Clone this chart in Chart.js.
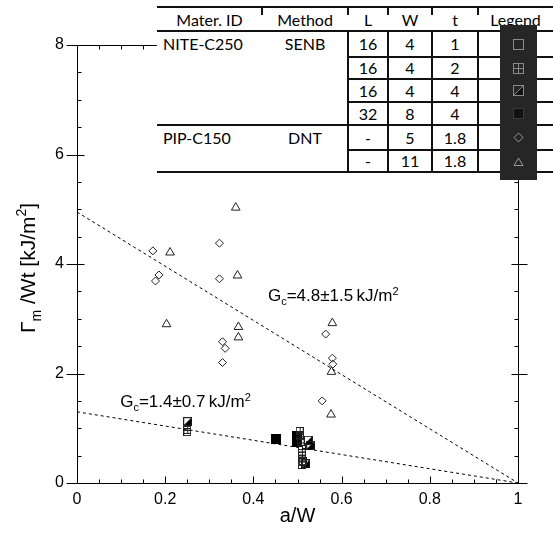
<!DOCTYPE html>
<html lang="en">
<head>
<meta charset="UTF-8">
<title>Gamma_m/Wt vs a/W</title>
<style>
    body { margin: 0; background: #fff; }
    .wrap { position: relative; width: 553px; height: 536px; }
    #chart { position: absolute; left: 0; top: 0; }
    .tbl {
        position: absolute; left: 157px; top: 7px; width: 396px; height: 166px;
        background: #fff;
        font-family: Lato, 'Noto Sans', sans-serif; font-size: 16px; color: #000;
    }
    .tbl .hl { position: absolute; height: 2px; background: #111; }
    .tbl .vl { position: absolute; width: 2px; background: #111; }
    .tbl .tx { position: absolute; transform: translate(-50%, -50%); white-space: nowrap; line-height: 1; }
    .tbl .tx.lft { transform: translate(0, -50%); }
    .legbox {
        position: absolute; left: 500px; top: 25px; width: 37px; height: 155px;
        background: #262626;
    }
    .legbox canvas { position: absolute; }
</style>
</head>
<body>
<div class="wrap">
    <canvas id="chart" width="553" height="536"></canvas>
    <div class="tbl" id="tbl"></div>
    <div class="legbox" id="legbox"></div>
</div>

<script src="https://cdn.jsdelivr.net/npm/chart.js"></script>
<script>
// ---- data ----
// NITE-C250, SENB (squares)
const sqOpenX = [0.250, 0.512];
const sqOpenY = [0.93, 0.40];
const sqGridX = [0.250, 0.505, 0.505, 0.507, 0.510, 0.510, 0.510, 0.510];
const sqGridY = [0.97, 0.95, 0.85, 0.74, 0.62, 0.52, 0.43, 0.33];
const sqHalfX = [0.251, 0.525, 0.530, 0.519];
const sqHalfY = [1.12, 0.78, 0.69, 0.35];
const sqFullX = [0.451, 0.498, 0.498];
const sqFullY = [0.80, 0.86, 0.75];
// PIP-C150, DNT
const dntW5X = [0.172, 0.186, 0.178, 0.323, 0.323, 0.330, 0.336, 0.330, 0.564, 0.579, 0.580, 0.556];
const dntW5Y = [4.24, 3.80, 3.69, 4.38, 3.73, 2.58, 2.46, 2.20, 2.72, 2.28, 2.17, 1.50];
const dntW11X = [0.211, 0.360, 0.364, 0.203, 0.366, 0.366, 0.579, 0.577, 0.576];
const dntW11Y = [4.21, 5.03, 3.79, 2.90, 2.85, 2.66, 2.92, 2.03, 1.25];
// fitted lines Gamma/Wt = Gc (1 - a/W)
const fitX = [0, 1];
const fitHighY = [4.95, 0];
const fitLowY = [1.30, 0];

const xTicks = [0, 0.2, 0.4, 0.6, 0.8, 1];
const yTicks = [0, 2, 4, 6, 8];

// table contents
const tblHeader = ['Mater. ID', 'Method', 'L', 'W', 't', 'Legend'];
const tblRows = [
    ['NITE-C250', 'SENB', '16', '4', '1'],
    ['', '', '16', '4', '2'],
    ['', '', '16', '4', '4'],
    ['', '', '32', '8', '4'],
    ['PIP-C150', 'DNT', '-', '5', '1.8'],
    ['', '', '-', '11', '1.8']
];
const legKinds = ['open', 'grid', 'half', 'full', 'diamond', 'triangle'];

const FONT = "'Liberation Sans', Arial, sans-serif";
const zip = (xs, ys) => xs.map((x, i) => ({ x: x, y: ys[i] }));

// square markers as little canvases
function makeSquare(kind, size, line, dark) {
    const c = document.createElement('canvas');
    c.width = size; c.height = size;
    const g = c.getContext('2d');
    const s = size - 1;
    g.lineWidth = 1;
    g.strokeStyle = line;
    if (kind === 'full') {
        g.fillStyle = dark;
        g.fillRect(0, 0, size, size);
    }
    if (kind === 'half') {
        g.fillStyle = dark;
        g.beginPath();
        g.moveTo(0.5, s + 0.5); g.lineTo(s + 0.5, 0.5); g.lineTo(s + 0.5, s + 0.5);
        g.closePath(); g.fill();
        g.beginPath(); g.moveTo(0.5, s + 0.5); g.lineTo(s + 0.5, 0.5); g.stroke();
    }
    if (kind === 'grid') {
        const m = Math.floor(size / 2) + 0.5;
        g.beginPath();
        g.moveTo(m, 0); g.lineTo(m, size);
        g.moveTo(0, m); g.lineTo(size, m);
        g.stroke();
    }
    g.strokeRect(0.5, 0.5, s, s);
    return c;
}

function drawRich(ctx, parts, x, y, align) {
    let total = 0;
    parts.forEach(p => {
        ctx.font = p.size + 'px ' + FONT;
        p.w = ctx.measureText(p.t).width;
        total += p.w;
    });
    let cx = align === 'center' ? x - total / 2 : x;
    parts.forEach(p => {
        ctx.font = p.size + 'px ' + FONT;
        ctx.fillText(p.t, cx, y + (p.dy || 0));
        cx += p.w;
    });
}

const framePlugin = {
    id: 'frame',
    beforeDatasetsDraw(chart) {
        const { ctx, chartArea: a, scales } = chart;
        const sx = scales.x, sy = scales.y;
        const L = Math.round(a.left) + 0.5, R = Math.round(a.right) + 0.5;
        const T = Math.round(a.top) + 0.5, B = Math.round(a.bottom) + 0.5;
        ctx.save();
        ctx.strokeStyle = '#000';
        ctx.lineWidth = 1;
        ctx.strokeRect(L, T, R - L, B - T);
        ctx.beginPath();
        for (let i = 0; i <= 20; i++) {
            const px = Math.round(sx.getPixelForValue(i * 0.05)) + 0.5;
            const len = i % 4 === 0 ? 7 : 4;
            ctx.moveTo(px, B); ctx.lineTo(px, B - len);
            ctx.moveTo(px, T); ctx.lineTo(px, T + len);
        }
        for (let j = 0; j <= 16; j++) {
            const py = Math.round(sy.getPixelForValue(j * 0.5)) + 0.5;
            if (j % 4 === 0) {
                ctx.moveTo(L - 11, py); ctx.lineTo(L + 7, py);
                ctx.moveTo(R - 7, py); ctx.lineTo(R + 9, py);
            } else {
                ctx.moveTo(L, py); ctx.lineTo(L + 4, py);
                ctx.moveTo(R, py); ctx.lineTo(R - 4, py);
            }
        }
        ctx.stroke();
        ctx.restore();
    },
    afterDraw(chart) {
        const { ctx, scales } = chart;
        const sx = scales.x, sy = scales.y;
        ctx.save();
        ctx.fillStyle = '#000';
        ctx.textBaseline = 'alphabetic';
        ctx.textAlign = 'left';
        // x title
        drawRich(ctx, [{ t: 'a/W', size: 20 }], (sx.left + sx.right) / 2, 522, 'center');
        // y title, rotated
        ctx.save();
        ctx.translate(35, 268);
        ctx.rotate(-Math.PI / 2);
        drawRich(ctx, [
            { t: 'Γ', size: 21 },
            { t: 'm', size: 14, dy: 6 },
            { t: ' /Wt [kJ/m', size: 21 },
            { t: '2', size: 14, dy: -9 },
            { t: ']', size: 21 }
        ], 0, 0, 'center');
        ctx.restore();
        // fit annotations
        drawRich(ctx, [
            { t: 'G', size: 17 }, { t: 'c', size: 11, dy: 4 },
            { t: '=4.8±1.5\u2009kJ/m', size: 17 }, { t: '2', size: 11, dy: -6 }
        ], sx.getPixelForValue(0.433), sy.getPixelForValue(3.33), 'left');
        drawRich(ctx, [
            { t: 'G', size: 17 }, { t: 'c', size: 11, dy: 4 },
            { t: '=1.4±0.7\u2009kJ/m', size: 17 }, { t: '2', size: 11, dy: -6 }
        ], sx.getPixelForValue(0.098), sy.getPixelForValue(1.39), 'left');
        ctx.restore();
    }
};

const ink = '#222';
const sqOpen = makeSquare('open', 8, ink, '#000');
const sqGrid = makeSquare('grid', 8, ink, '#000');
const sqHalf = makeSquare('half', 9, ink, '#000');
const sqFull = makeSquare('full', 10, '#000', '#000');

function markerSet(data, style, r) {
    return {
        type: 'scatter', data: data, pointStyle: style, pointRadius: r,
        pointBorderColor: ink, pointBackgroundColor: 'rgba(0,0,0,0)', pointBorderWidth: 1
    };
}

new Chart(document.getElementById('chart'), {
    data: {
        datasets: [
            { type: 'line', data: zip(fitX, fitHighY), borderColor: '#000', borderWidth: 1, borderDash: [3, 3], pointRadius: 0, fill: false },
            { type: 'line', data: zip(fitX, fitLowY), borderColor: '#000', borderWidth: 1, borderDash: [3, 3], pointRadius: 0, fill: false },
            markerSet(zip(dntW5X, dntW5Y), 'rectRot', 4),
            markerSet(zip(dntW11X, dntW11Y), 'triangle', 5),
            markerSet(zip(sqGridX, sqGridY), sqGrid, 4),
            markerSet(zip(sqOpenX, sqOpenY), sqOpen, 4),
            markerSet(zip(sqFullX, sqFullY), sqFull, 5),
            markerSet(zip(sqHalfX, sqHalfY), sqHalf, 5)
        ]
    },
    options: {
        responsive: false,
        animation: false,
        layout: { padding: { top: 45, right: 35, left: 0, bottom: 0 } },
        plugins: { legend: { display: false }, tooltip: { enabled: false } },
        scales: {
            x: {
                type: 'linear', min: 0, max: 1,
                grid: { display: false, drawTicks: false }, border: { display: false },
                afterBuildTicks: s => { s.ticks = xTicks.map(v => ({ value: v })); },
                ticks: { padding: 7, color: '#000', font: { size: 16, family: FONT },
                    callback: v => String(+v.toFixed(2)) },
                afterFit: s => { s.height = 53; }
            },
            y: {
                type: 'linear', min: 0, max: 8,
                grid: { display: false, drawTicks: false }, border: { display: false },
                afterBuildTicks: s => { s.ticks = yTicks.map(v => ({ value: v })); },
                ticks: { padding: 13, color: '#000', font: { size: 16, family: FONT },
                    callback: v => String(v) },
                afterFit: s => { s.width = 77; }
            }
        }
    },
    plugins: [framePlugin]
});

// ---- table overlay (page coords minus table origin 157,7) ----
const tbl = document.getElementById('tbl');
const colEdges = [0, 105, 191, 231, 275, 321, 396];
const rowEdges = [0, 24, 50, 72, 95, 118, 143, 165];
function addLine(cls, l, t, len) {
    const d = document.createElement('div');
    d.className = cls;
    d.style.left = l + 'px'; d.style.top = t + 'px';
    if (cls === 'hl') d.style.width = len + 'px'; else d.style.height = len + 'px';
    tbl.appendChild(d);
}
function addText(txt, x, y, left) {
    const s = document.createElement('span');
    s.className = left ? 'tx lft' : 'tx';
    s.textContent = txt;
    s.style.left = x + 'px'; s.style.top = y + 'px';
    tbl.appendChild(s);
}
[0, 1, 5, 7].forEach(r => addLine('hl', 0, rowEdges[r] - 1, 396));
[2, 3, 4, 6].forEach(r => addLine('hl', colEdges[2], rowEdges[r] - 1, 396 - colEdges[2]));
[2, 3, 4, 5].forEach(c => addLine('vl', colEdges[c] - 1, rowEdges[1], rowEdges[7] - rowEdges[1]));
[1, 2, 3, 4, 5].forEach(c => addLine('vl', colEdges[c] - 1, 0, 8));
tblHeader.forEach((h, c) => addText(h, (colEdges[c] + colEdges[c + 1]) / 2, 12.5));
tblRows.forEach((row, r) => {
    const cy = (rowEdges[r + 1] + rowEdges[r + 2]) / 2;
    row.forEach((v, c) => {
        if (!v) return;
        if (c === 0) addText(v, 6, cy, true);
        else addText(v, (colEdges[c] + colEdges[c + 1]) / 2, cy);
    });
});

// legend symbols in the dark column
const box = document.getElementById('legbox');
legKinds.forEach((k, i) => {
    let c;
    if (k === 'diamond' || k === 'triangle') {
        c = document.createElement('canvas');
        c.width = 11; c.height = 11;
        const g = c.getContext('2d');
        g.strokeStyle = '#999'; g.lineWidth = 1;
        g.beginPath();
        if (k === 'diamond') { g.moveTo(5.5, 1); g.lineTo(10, 5.5); g.lineTo(5.5, 10); g.lineTo(1, 5.5); }
        else { g.moveTo(5.5, 2); g.lineTo(10, 9.5); g.lineTo(1, 9.5); }
        g.closePath(); g.stroke();
    } else {
        c = makeSquare(k, 11, k === 'full' ? '#3a3a3a' : '#8a8a8a', '#111');
    }
    const cy = 7 + (rowEdges[i + 1] + rowEdges[i + 2]) / 2;
    c.style.left = (18 - c.width / 2) + 'px';
    c.style.top = (cy - 25 - c.height / 2) + 'px';
    box.appendChild(c);
});
</script>
</body>
</html>
